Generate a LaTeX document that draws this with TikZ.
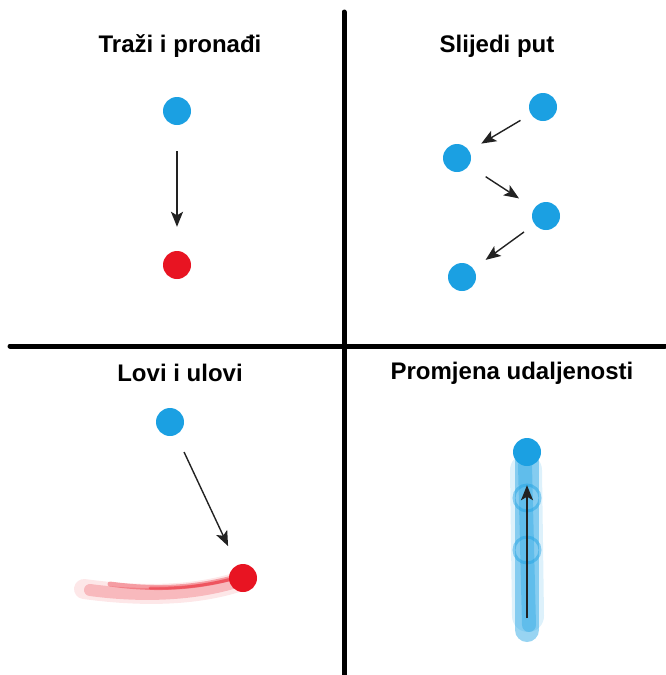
\documentclass[tikz,border=0pt]{standalone}
\usepackage{fontspec}
\setmainfont{Liberation Sans}
\usetikzlibrary{arrows.meta,positioning}
\definecolor{dotblue}{RGB}{27,160,226}
\definecolor{dotred}{RGB}{232,20,34}
\definecolor{arrowgray}{RGB}{34,34,34}

\begin{document}
\begin{tikzpicture}[x=1pt, y=-1pt, >={Stealth[length=15pt,width=12pt,inset=3.5pt]},
  title/.style={font=\fontsize{24}{28}\selectfont\bfseries},
  dot/.style={circle, fill=#1, minimum size=28pt, inner sep=0pt},
  arr/.style={->, arrowgray, line width=1.4pt},
  divider/.style={line width=5pt, line cap=round}]

\useasboundingbox (0,0) rectangle (665,675);

% -------------------------------------------------------
% 1. Dividers
% -------------------------------------------------------
\draw[divider] (344,12) -- (344,675);
\draw[divider] (10,346) -- (665,346);

% -------------------------------------------------------
% 2. Trazi i pronadi
% -------------------------------------------------------
\node[title] (t1) at (180,46) {Traži i pronađi};
\node[dot=dotblue] (a1) at (177,111) {};
\node[dot=dotred] (a2) at (177,265) {};
\draw[arr, shorten <=26pt, shorten >=24pt] (a1) -- (a2);

% -------------------------------------------------------
% 3. Slijedi put
% -------------------------------------------------------
\node[title] (t2) at (497,46) {Slijedi put};
\node[dot=dotblue] (b1) at (543,107) {};
\node[dot=dotblue] (b2) at (457,158) {};
\node[dot=dotblue] (b3) at (546,216) {};
\node[dot=dotblue] (b4) at (462,277) {};
\draw[arr, shorten <=12pt, shorten >=14pt] (b1) -- (b2);
\draw[arr, shorten <=20pt, shorten >=18pt] (b2) -- (b3);
\draw[arr, shorten <=13pt, shorten >=15pt] (b3) -- (b4);

% -------------------------------------------------------
% 4. Lovi i ulovi
% -------------------------------------------------------
\node[title] (t3) at (180,373) {Lovi i ulovi};
% trail behind the moving target
\begin{scope}[dotred, line cap=round]
  \draw[line width=20pt, opacity=0.10] (84,589) .. controls (150,598) and (200,594) .. (238,582);
  \draw[line width=12pt, opacity=0.22] (90,590) .. controls (150,598) and (200,593) .. (236,582);
  \draw[line width=5pt, opacity=0.35] (110,584) .. controls (160,591) and (200,587) .. (236,577);
  \draw[line width=3pt, opacity=0.40] (150,588) .. controls (180,589) and (210,585) .. (236,578);
\end{scope}
\node[dot=dotblue] (c1) at (170,422) {};
\node[dot=dotred] (c2) at (243,578) {};
\draw[arr, shorten <=19pt, shorten >=21pt] (c1) -- (c2);

% -------------------------------------------------------
% 5. Promjena udaljenosti
% -------------------------------------------------------
\node[title] (t4) at (512,373) {Promjena udaljenosti};
% trail of the growing distance
\begin{scope}[dotblue, line cap=round]
  \draw[line width=32pt, opacity=0.15] (526,470) -- (528,616);
  \draw[line width=24pt, opacity=0.45] (527,458) -- (527,630);
  \draw[line width=14pt, opacity=0.35] (525,465) -- (529,625);
  \foreach \y in {498,550} {
    \draw[line width=3pt, opacity=0.45] (527,\y) circle (13);
  }
\end{scope}
\node[dot=dotblue] (d1) at (527,452) {};
\coordinate (d0) at (527,618);
\draw[arr, shorten >=19pt] (d0) -- (d1);

\end{tikzpicture}
\end{document}
